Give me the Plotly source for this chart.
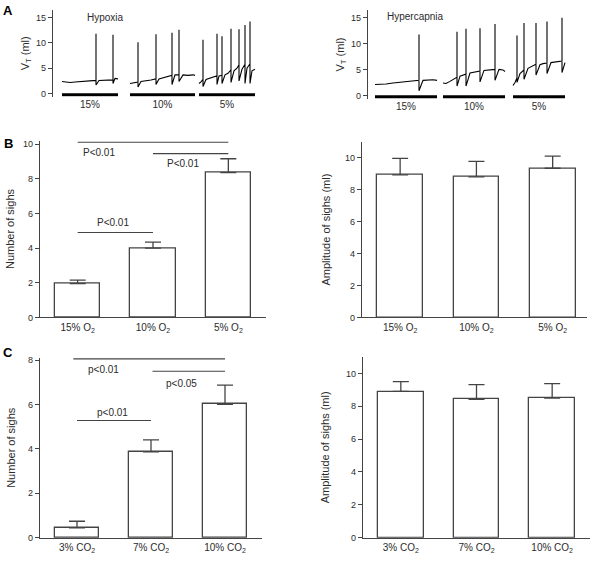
import plotly.graph_objects as go

FONT = "Liberation Sans, Arial, sans-serif"
DARK = "#2b2b2b"
GRAY = "#444444"

# ---------------- Panel A data (tidal volume traces, ml) ----------------
SEG_LABELS = ["15%", "10%", "5%"]

# Hypoxia: baseline points (t, VT) per segment and sighs (t, peak, trough)
HYPOX_BASE = [
    [(9, 2.4), (13, 2.3), (17, 2.2), (22, 2.3), (28, 2.4), (34, 2.5), (39, 2.6), (43, 2.6),
     (46, 2.6), (50, 2.6), (55, 2.7), (60, 2.7), (62, 3.0), (65, 2.9)],
    [(77, 2.0), (80, 2.1), (85, 2.3), (88, 2.4), (93, 2.5), (98, 2.7), (103, 2.9), (106, 2.9),
     (110, 3.1), (115, 3.3), (119, 3.6), (122, 3.7), (126, 3.7), (130, 3.7), (135, 3.6),
     (140, 3.7), (142, 3.6)],
    [(146, 2.0), (148, 2.3), (150, 2.8), (153, 2.8), (157, 3.0), (161, 3.2), (164, 3.5),
     (166, 3.5), (169, 3.6), (172, 3.7), (175, 4.0), (178, 4.7), (181, 4.5), (184, 5.0),
     (186, 5.7), (189, 4.8), (192, 5.8), (194, 5.0), (197, 5.9), (199, 4.5), (202, 4.8)],
]
HYPOX_SIGHS = [
    [(43, 11.8, 1.7), (60, 11.6, 2.0)],
    [(85, 10.1, 1.3), (103, 11.7, 1.8), (119, 12.0, 1.8), (126, 12.6, 2.4)],
    [(150, 10.6, 1.4), (164, 11.8, 1.8), (169, 11.3, 2.0), (178, 12.8, 2.2),
     (186, 12.7, 2.5), (192, 13.5, 2.0), (197, 14.2, 2.0)],
]
HYPOX_SEGS = [(9, 65), (77, 142), (146, 202)]

# Hypercapnia
HYPER_BASE = [
    [(7, 2.2), (12, 2.2), (18, 2.3), (25, 2.5), (32, 2.6), (40, 2.8), (46, 2.9), (51, 3.0),
     (55, 3.0), (60, 3.1), (65, 3.1), (69, 3.0)],
    [(75, 2.5), (78, 2.4), (82, 2.8), (86, 3.3), (89, 3.6), (92, 3.8), (95, 4.0), (98, 4.2),
     (102, 4.4), (106, 4.6), (112, 4.8), (116, 4.9), (120, 5.0), (127, 5.1), (131, 5.1),
     (135, 5.0), (137, 4.7)],
    [(145, 2.0), (147, 2.6), (149, 3.5), (152, 4.3), (156, 5.0), (160, 5.3), (164, 5.7),
     (168, 6.1), (172, 6.0), (175, 6.2), (179, 6.3), (183, 6.4), (188, 6.6), (194, 6.7),
     (197, 6.4)],
]
HYPER_SIGHS = [
    [(51, 11.8, 1.0)],
    [(89, 12.3, 1.9), (98, 12.9, 1.9), (112, 13.0, 2.7), (127, 13.8, 3.0)],
    [(149, 11.6, 2.6), (156, 14.0, 3.2), (168, 14.0, 4.0), (179, 14.3, 4.3), (194, 15.0, 4.5)],
]
HYPER_SEGS = [(7, 69), (75, 137), (145, 197)]

# ---------------- Panel B / C data ----------------
O2_LABELS = ["15% O<sub>2</sub>", "10% O<sub>2</sub>", "5% O<sub>2</sub>"]
O2_SIGH_N = [1.95, 4.0, 8.35]
O2_SIGH_N_SEM = [0.2, 0.34, 0.8]
O2_SIGH_AMP = [8.93, 8.8, 9.34]
O2_SIGH_AMP_SEM = [1.03, 0.97, 0.76]
O2_BRACKETS = [(0, 2, 10.1), (1, 2, 9.45), (0, 1, 4.9)]
O2_PTEXT = [(0.28, 9.5, "P<0.01"), (1.4, 8.9, "P<0.01"), (0.47, 5.5, "P<0.01")]

CO2_LABELS = ["3% CO<sub>2</sub>", "7% CO<sub>2</sub>", "10% CO<sub>2</sub>"]
CO2_SIGH_N = [0.44, 3.87, 6.01]
CO2_SIGH_N_SEM = [0.3, 0.54, 0.86]
CO2_SIGH_AMP = [8.9, 8.42, 8.5]
CO2_SIGH_AMP_SEM = [0.6, 0.9, 0.88]
CO2_BRACKETS = [(-0.05, 2, 8.06), (1.02, 2, 7.5), (0, 1, 5.28)]
CO2_PTEXT = [(0.36, 7.6, "p<0.01"), (1.41, 6.95, "p<0.05"), (0.48, 5.62, "p<0.01")]

W, H = 592, 567


def dom_x(a, b):
    return [a / W, b / W]


def dom_y(top_px, bottom_px):
    return [1 - bottom_px / H, 1 - top_px / H]


def build_trace(bases, sighs):
    xs, ys = [], []
    for seg_base, seg_sighs in zip(bases, sighs):
        smap = {t: (pk, tr) for t, pk, tr in seg_sighs}
        for t, v in seg_base:
            xs.append(t)
            ys.append(v)
            if t in smap:
                pk, tr = smap[t]
                xs += [t, t]
                ys += [pk, tr]
        xs.append(None)
        ys.append(None)
    return xs, ys


fig = go.Figure()

tickfont = dict(family=FONT, size=9, color=DARK)
titlefont = dict(family=FONT, size=11, color=DARK)

# ---- Panel A traces ----
for (bases, sighs, segs, xa, ya, bar_y) in [
    (HYPOX_BASE, HYPOX_SIGHS, HYPOX_SEGS, "x", "y", -0.2),
    (HYPER_BASE, HYPER_SIGHS, HYPER_SEGS, "x2", "y2", -0.15),
]:
    xs, ys = build_trace(bases, sighs)
    fig.add_trace(go.Scatter(x=xs, y=ys, mode="lines", xaxis=xa, yaxis=ya,
                             line=dict(color="black", width=1.1), showlegend=False,
                             hoverinfo="skip"))
    bx, by = [], []
    for a, b in segs:
        bx += [a, b, None]
        by += [bar_y, bar_y, None]
    fig.add_trace(go.Scatter(x=bx, y=by, mode="lines", xaxis=xa, yaxis=ya,
                             line=dict(color="black", width=3), showlegend=False,
                             hoverinfo="skip"))


def add_bars(vals, sems, xa, ya):
    fig.add_trace(go.Bar(
        x=[0, 1, 2], y=vals, xaxis=xa, yaxis=ya, width=0.6,
        marker=dict(color="white", line=dict(color=GRAY, width=1.3)),
        error_y=dict(type="data", array=sems, arrayminus=[0, 0, 0], symmetric=False,
                     color=GRAY, thickness=1.3, width=8),
        showlegend=False, hoverinfo="skip"))


add_bars(O2_SIGH_N, O2_SIGH_N_SEM, "x3", "y3")
add_bars(O2_SIGH_AMP, O2_SIGH_AMP_SEM, "x4", "y4")
add_bars(CO2_SIGH_N, CO2_SIGH_N_SEM, "x5", "y5")
add_bars(CO2_SIGH_AMP, CO2_SIGH_AMP_SEM, "x6", "y6")

annotations = []
for brackets, ptext, xa, ya in [(O2_BRACKETS, O2_PTEXT, "x3", "y3"),
                                (CO2_BRACKETS, CO2_PTEXT, "x5", "y5")]:
    for x0, x1, yv in brackets:
        fig.add_trace(go.Scatter(x=[x0, x1], y=[yv, yv], mode="lines", xaxis=xa, yaxis=ya,
                                 line=dict(color=GRAY, width=1.2), showlegend=False,
                                 hoverinfo="skip"))
    for tx, ty, txt in ptext:
        annotations.append(dict(x=tx, y=ty, xref=xa, yref=ya, text=txt, showarrow=False,
                                font=dict(family=FONT, size=10, color=DARK)))

# Panel A titles
annotations.append(dict(x=32, y=15.1, xref="x", yref="y", text="Hypoxia", showarrow=False,
                        xanchor="left", font=dict(family=FONT, size=10, color=DARK)))
annotations.append(dict(x=17, y=15.2, xref="x2", yref="y2", text="Hypercapnia", showarrow=False,
                        xanchor="left", font=dict(family=FONT, size=10, color=DARK)))

# Panel letters
for letter, px, py in [("A", 8, 8), ("B", 8, 143), ("C", 8, 354)]:
    annotations.append(dict(x=px / W, y=1 - py / H, xref="paper", yref="paper",
                            text="<b>%s</b>" % letter, showarrow=False,
                            xanchor="center", yanchor="middle",
                            font=dict(family=FONT, size=13, color="black")))

axis_common = dict(showline=True, linecolor=GRAY, linewidth=1.2, showgrid=False,
                   zeroline=False, tickfont=tickfont, fixedrange=True)


def yax(domain, rng, title, dtick, standoff=6):
    return dict(axis_common, domain=domain, range=rng, ticks="outside", ticklen=4,
                tickcolor=GRAY, dtick=dtick, tick0=0,
                title=dict(text=title, font=titlefont, standoff=standoff))


def xbar(domain, rng, labels, anchor):
    return dict(axis_common, domain=domain, range=rng, tickvals=[0, 1, 2], ticktext=labels,
                ticks="", anchor=anchor, tickfont=dict(family=FONT, size=10, color=DARK))


def xtrace(domain, segs, anchor):
    return dict(domain=domain, range=[0, 210], showline=False, showgrid=False, zeroline=False,
                tickvals=[(a + b) / 2 for a, b in segs], ticktext=SEG_LABELS, ticks="",
                anchor=anchor, tickfont=dict(family=FONT, size=10, color=DARK), fixedrange=True)


fig.update_layout(
    width=W, height=H, margin=dict(l=0, r=0, t=0, b=0),
    paper_bgcolor="white", plot_bgcolor="white",
    font=dict(family=FONT, color=DARK),
    showlegend=False, bargap=0,
    annotations=annotations,
    xaxis=xtrace(dom_x(53, 263), HYPOX_SEGS, "y"),
    yaxis=dict(yax(dom_y(7, 95), [-0.6, 16.5], "V<sub>T</sub> (ml)", 5, 4), anchor="x",
               tickvals=[0, 5, 10, 15]),
    xaxis2=xtrace(dom_x(368, 578), HYPER_SEGS, "y2"),
    yaxis2=dict(yax(dom_y(7, 97.5), [-0.6, 16.5], "V<sub>T</sub> (ml)", 5, 4), anchor="x2",
                tickvals=[0, 5, 10, 15]),
    xaxis3=xbar(dom_x(40, 266), [-0.5, 2.5], O2_LABELS, "y3"),
    yaxis3=dict(yax(dom_y(139.5, 319), [0, 10.2], "Number of sighs", 2, 6), anchor="x3",
                tickvals=[0, 2, 4, 6, 8, 10]),
    xaxis4=xbar(dom_x(362, 587), [-0.5, 2.45], O2_LABELS, "y4"),
    yaxis4=dict(yax(dom_y(140.7, 319), [0, 11], "Amplitude of sighs (ml)", 2, 12), anchor="x4",
                tickvals=[0, 2, 4, 6, 8, 10]),
    xaxis5=xbar(dom_x(40, 262), [-0.5, 2.5], CO2_LABELS, "y5"),
    yaxis5=dict(yax(dom_y(360, 542.3), [0, 8.1], "Number of sighs", 2, 10), anchor="x5",
                tickvals=[0, 2, 4, 6, 8]),
    xaxis6=xbar(dom_x(363, 590), [-0.5, 2.5], CO2_LABELS, "y6"),
    yaxis6=dict(yax(dom_y(359, 542.3), [0, 11], "Amplitude of sighs (ml)", 2, 14), anchor="x6",
                tickvals=[0, 2, 4, 6, 8, 10]),
)

fig.write_html("out.html", config={"displayModeBar": False},
               post_script="document.body.style.margin='0';document.body.style.padding='0';")
